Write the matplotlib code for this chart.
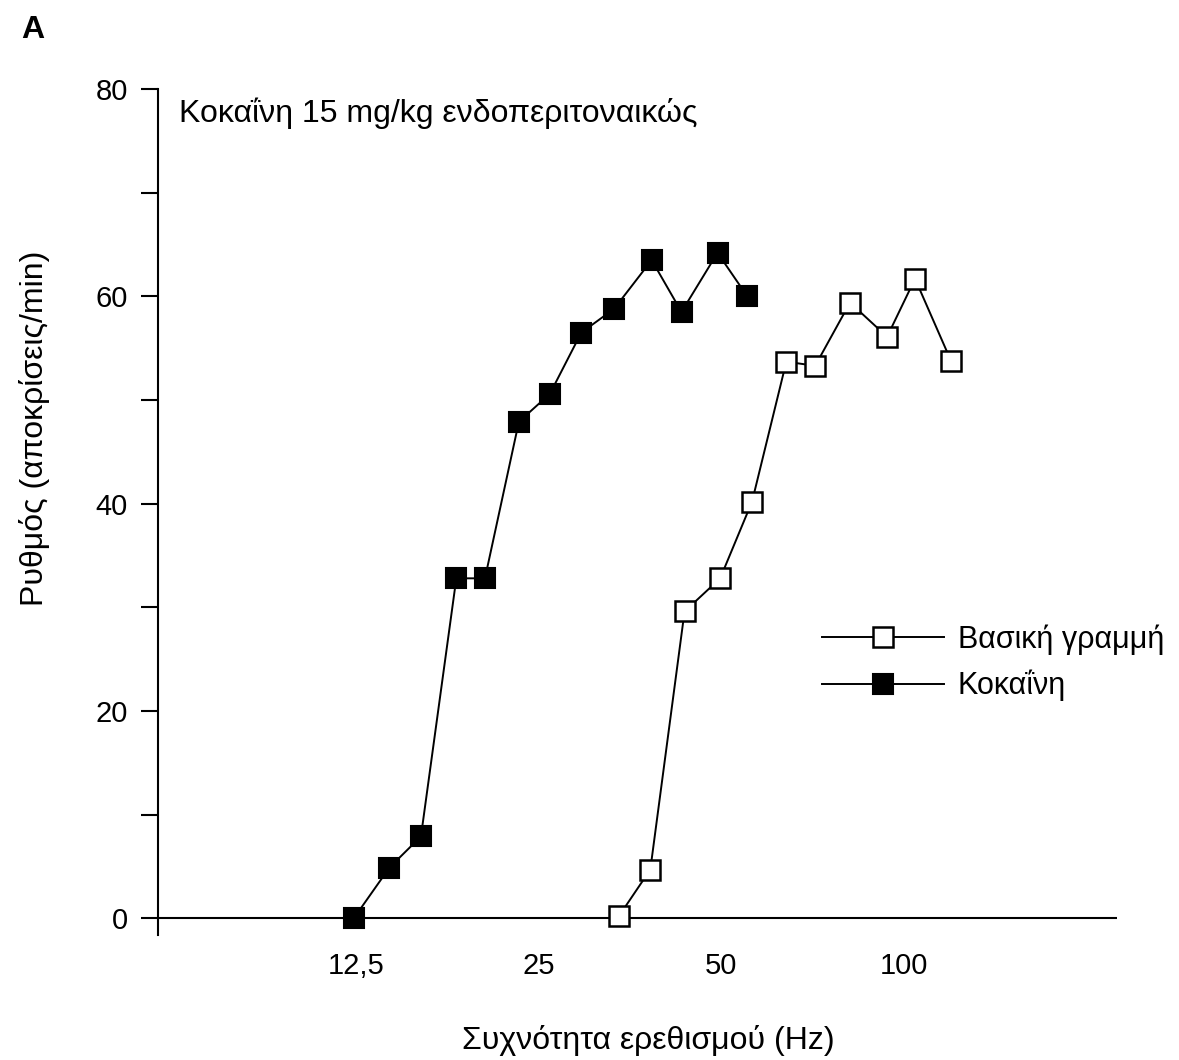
import matplotlib
matplotlib.use("Agg")
import matplotlib.pyplot as plt
import matplotlib.ticker as tck

plt.rcParams['font.family'] = ['Liberation Sans', 'DejaVu Sans']

### data ###
freq_cocaine = [12.4, 14.2, 16.0, 18.3, 20.4, 23.2, 26.1, 29.4, 33.3, 38.4, 43.0, 49.3, 55.2]
rate_cocaine = [0.0, 4.9, 7.9, 32.8, 32.8, 47.9, 50.6, 56.5, 58.8, 63.5, 58.5, 64.2, 60.0]
freq_base = [33.9, 38.2, 43.5, 49.8, 56.2, 64.0, 71.4, 81.5, 93.8, 104.3, 119.5]
rate_base = [0.2, 4.7, 29.6, 32.8, 40.2, 53.7, 53.3, 59.4, 56.1, 61.7, 53.8]
xtick_vals = [12.5, 25, 50, 100]
xtick_labels = ['12,5', '25', '50', '100']

fig = plt.figure(figsize=(11.79, 10.6), dpi=100)
ax = fig.add_axes([0.134, 0.118, 0.813, 0.798])

fs_tick = 21
fs = 23
ax.plot(freq_base, rate_base, '-s', color='black', lw=1.4, ms=15, mfc='white', mec='black', mew=1.8,
        label='Βασική γραμμή', zorder=3)
ax.plot(freq_cocaine, rate_cocaine, '-s', color='black', lw=1.4, ms=15, mfc='black', mec='black', mew=1.5,
        label='Κοκαΐνη', zorder=4)

ax.set_xscale('log')
ax.set_xlim(5.9, 224)
ax.set_ylim(-1.6, 80)

###axes styling: only left spine plus a zero line###
for s in ['top', 'right', 'bottom']:
    ax.spines[s].set_visible(False)
ax.spines['left'].set_linewidth(1.5)
ax.axhline(0, color='black', lw=1.5, zorder=2)

ax.set_yticks([0, 20, 40, 60, 80])
ax.yaxis.set_minor_locator(tck.MultipleLocator(10))
ax.tick_params(axis='y', which='both', direction='out', length=12, width=1.5, labelsize=fs_tick, pad=9.5)
ax.set_xticks(xtick_vals)
ax.set_xticklabels(xtick_labels)
ax.xaxis.set_minor_locator(tck.NullLocator())
ax.tick_params(axis='x', which='both', length=0, labelsize=fs_tick, pad=12)

ax.text(0.022, 0.99, 'Κοκαΐνη 15 mg/kg ενδοπεριτοναικώς', transform=ax.transAxes,
        fontsize=fs, va='top', ha='left')

fig.text(35 / 1179, 1 - 428 / 1060, 'Ρυθμός (αποκρίσεις/min)', rotation=90,
         ha='center', va='center', fontsize=fs)
fig.text(648 / 1179, 1 - 1040 / 1060, 'Συχνότητα ερεθισμού (Hz)',
         ha='center', va='center', fontsize=fs)
fig.text(21 / 1179, 1 - 30 / 1060, 'A', ha='left', va='center', fontsize=fs, fontweight='bold')

leg = ax.legend(loc='upper left', bbox_to_anchor=(0.68, 0.382), frameon=False, fontsize=22,
                handlelength=4.0, handletextpad=0.45, labelspacing=0.5, borderaxespad=0)

fig.savefig('out.png', dpi=100, facecolor='white')
